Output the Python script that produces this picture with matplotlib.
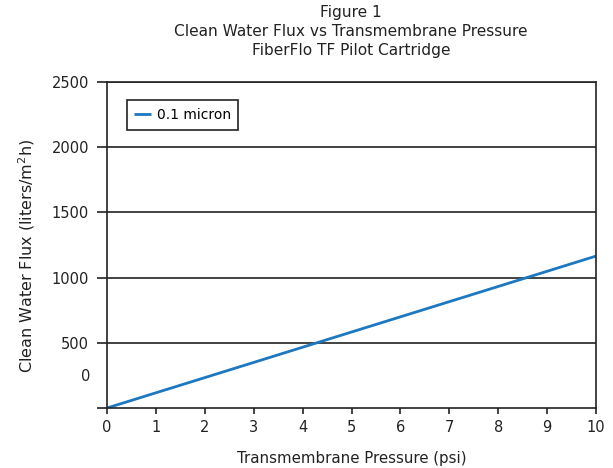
import matplotlib
matplotlib.use("Agg")
import matplotlib.pyplot as plt

plt.rcParams['font.family'] = ['DejaVu Sans']

pressure = [0, 10]
flux = [0, 1165]
series_name = "0.1 micron"
x_ticks = list(range(0, 11))
y_ticks = [0, 500, 1000, 1500, 2000, 2500]
y_tick_labels = ["", "500", "1000", "1500", "2000", "2500"]
title_lines = ["Figure 1", "Clean Water Flux vs Transmembrane Pressure", "FiberFlo TF Pilot Cartridge"]

fig = plt.figure(figsize=(6.13, 4.68), dpi=100)
ax = fig.add_axes([107/613, 1-408/468, (596-107)/613, (408-82)/468])

ax.plot(pressure, flux, color='#1c78c0', lw=2.0, label=series_name, solid_capstyle='butt')

ax.set_xlim(0, 10)
ax.set_ylim(0, 2500)
ax.set_xticks(x_ticks)
ax.set_yticks(y_ticks)
ax.set_yticklabels(y_tick_labels)
for y in y_ticks[1:]:
    ax.axhline(y, color='#222222', lw=1.2, zorder=1)
ax.text(-0.35, 245, "0", ha='right', va='center', fontsize=10.5, color='#222222')

for s in ax.spines.values():
    s.set_color('#222222')
    s.set_linewidth(1.2)
ax.tick_params(axis='y', length=7, width=1.2, color='#222222', labelsize=10.5, pad=6, labelcolor='#222222')
ax.tick_params(axis='x', length=4, width=1.2, color='#222222', labelsize=10.5, pad=5, labelcolor='#222222')

ax.set_xlabel("Transmembrane Pressure (psi)", fontsize=10.8, color='#222222', labelpad=11)
ax.set_ylabel("Clean Water Flux (liters/m$^2$h)", fontsize=11.5, color='#222222')
ax.yaxis.set_label_coords(-0.143, 0.466)

for i, (line, yc) in enumerate(zip(title_lines, [13, 32, 50])):
    fig.text(351/613, 1-yc/468, line, ha='center', va='center', fontsize=11.1, color='#222222')

leg = ax.legend(loc='upper left', bbox_to_anchor=(0.026, 0.965), fancybox=False, framealpha=1,
                edgecolor='#222222', fontsize=10, handlelength=1.2, handletextpad=0.4, borderpad=0.55)
leg.get_frame().set_linewidth(1.2)

fig.savefig("out.png", dpi=100)
